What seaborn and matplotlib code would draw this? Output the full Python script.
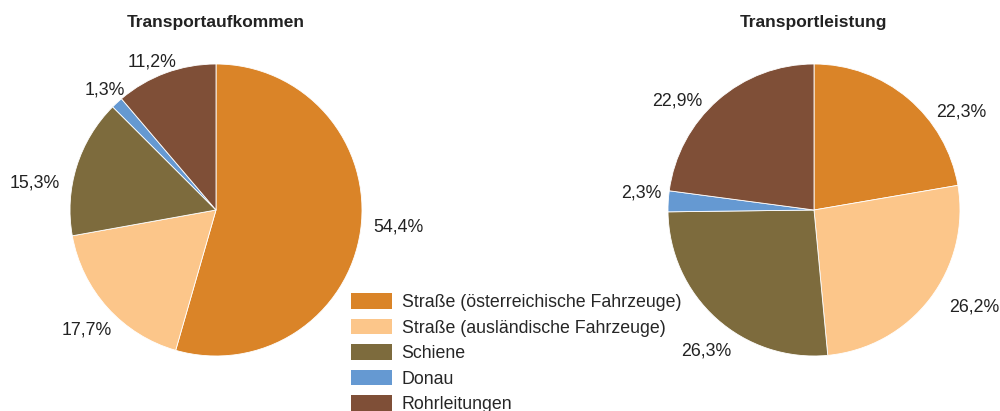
import numpy as np
import matplotlib
matplotlib.use("Agg")
import matplotlib.pyplot as plt
import seaborn as sns
from matplotlib.patches import Patch

# data
categories = [
    "Straße (österreichische Fahrzeuge)",
    "Straße (ausländische Fahrzeuge)",
    "Schiene",
    "Donau",
    "Rohrleitungen",
]
aufkommen = [54.4, 17.7, 15.3, 1.3, 11.2]
leistung = [22.3, 26.2, 26.3, 2.3, 22.9]
titles = ["Transportaufkommen", "Transportleistung"]

# label placement (pie radius units), as in the original "best fit" layout
label_xy_left = [(1.247, -0.116), (-0.884, -0.822), (-1.240, 0.185), (-0.760, 0.822), (-0.438, 1.014)]
label_xy_right = [(1.007, 0.671), (1.096, -0.664), (-0.740, -0.966), (-1.185, 0.116), (-0.938, 0.747)]

sns.set_theme(style="white")
plt.rcParams["font.family"] = ["Liberation Sans", "DejaVu Sans"]
colors = sns.color_palette(["#DA8428", "#FCC68A", "#7D6B3D", "#6599D2", "#7F4F37"])

W, H = 1000, 411
fig = plt.figure(figsize=(W / 100, H / 100), dpi=100)

R = 146  # pie radius in pixels
LIM = 1.3


def pie_axes(cx, cy):
    side = 2 * LIM * R
    return fig.add_axes([(cx - side / 2) / W, (H - cy - side / 2) / H, side / W, side / H])


def fmt(v):
    return f"{v:.1f}%".replace(".", ",")


for (cx, cy), vals, title, label_xy in zip([(216, 210), (814, 210)], [aufkommen, leistung],
                                          titles, [label_xy_left, label_xy_right]):
    ax = pie_axes(cx, cy)
    wedges, _, autotexts = ax.pie(
        vals, colors=colors, startangle=90, counterclock=False,
        autopct=lambda p: "", pctdistance=1.2,
        wedgeprops=dict(edgecolor="white", linewidth=0.6),
    )
    for t, v, xy in zip(autotexts, vals, label_xy):
        t.set_text(fmt(v))
        t.set_position(xy)
        t.set_fontsize(12.8)
        t.set_color("#222222")
    ax.set_xlim(-LIM, LIM)
    ax.set_ylim(-LIM, LIM)
    ax.set_axis_off()
    fig.text(cx / W, 1 - 22 / H, title, ha="center", va="center",
             fontsize=12.5, fontweight="bold", color="#222222")

handles = [Patch(facecolor=c, edgecolor="none") for c in colors]
fig.legend(handles, categories, loc="upper left",
           bbox_to_anchor=(351 / W, 1 - 293 / H), frameon=False,
           fontsize=12.8, borderpad=0, borderaxespad=0,
           handlelength=2.3, handleheight=1.0, handletextpad=0.55,
           labelspacing=0.42)

fig.savefig("out.png", dpi=100)
